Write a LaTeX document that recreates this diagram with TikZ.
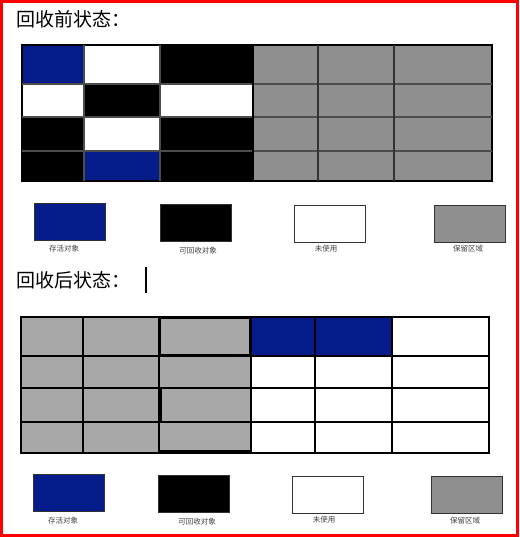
\documentclass[tikz,border=0pt]{standalone}
\usepackage{fontspec}
\newfontfamily\cjk{Noto Sans CJK SC}
\definecolor{liveblue}{RGB}{6,28,138}
\definecolor{resgray}{RGB}{143,143,143}
\definecolor{oldgray}{RGB}{168,168,168}

\begin{document}
\begin{tikzpicture}[x=1pt,y=-1pt,
  grid/.style={draw=black,line width=1.2pt},
  title/.style={anchor=west,font=\cjk\fontsize{19}{19}\selectfont},
  key/.style={draw=black!80,line width=1pt,minimum width=71pt,minimum height=37pt,inner sep=0pt},
  keytext/.style={font=\cjk\fontsize{7.5}{7.5}\selectfont,text=black!75}]
\useasboundingbox (0,0) rectangle (519,537);
\fill[white] (0,0) rectangle (519,537);

\node [title] (before) at (13,19) {回收前状态：};

% before collection
\fill [resgray] (253,45) rectangle (492,181);
\fill [liveblue] (22,45) rectangle (84,84);
\fill [black] (160,45) rectangle (253,84);
\fill [black] (84,84) rectangle (160,117);
\fill [black] (22,117) rectangle (84,181);
\fill [black] (160,117) rectangle (253,181);
\fill [liveblue] (84,151) rectangle (160,181);
\draw [grid] (22,45) rectangle (492,181);
\draw [grid, draw=black!70] (22,84) -- (492,84);
\draw [grid, draw=black!70] (22,117) -- (492,117);
\draw [grid, draw=black!70] (22,151) -- (492,151);
\draw [grid, draw=black!70] (84,45) -- (84,181);
\draw [grid, draw=black!70] (160,45) -- (160,181);
\draw [grid] (253,45) -- (253,181);
\draw [grid, draw=black!80] (318,45) -- (318,181);
\draw [grid, draw=black!80] (394,45) -- (394,181);

\node [key, fill=liveblue] (liveA) at (69.5,221.5) {};
\node [keytext] (liveAtxt) at (64,249) {存活对象};
\node [key, fill=black] (deadA) at (195.5,222.5) {};
\node [keytext] (deadAtxt) at (198,251) {可回收对象};
\node [key, fill=white] (freeA) at (330,223.5) {};
\node [keytext] (freeAtxt) at (326,249) {未使用};
\node [key, fill=resgray] (resA) at (469.5,223.5) {};
\node [keytext] (resAtxt) at (468,249) {保留区域};

\node [title] (after) at (13,280) {回收后状态：};
\draw [line width=1.5pt] (146,267) -- (146,293);

% after collection
\fill [oldgray] (21,317) rectangle (251,453);
\fill [liveblue] (251,317) rectangle (392,356);
\draw [grid] (21,317) rectangle (489,453);
\draw [grid] (21,356) -- (489,356);
\draw [grid] (21,388) -- (489,388);
\draw [grid] (21,422) -- (489,422);
\draw [grid] (83,317) -- (83,453);
\draw [grid] (159,317) -- (159,453);
\draw [grid] (251,317) -- (251,453);
\draw [grid] (315,317) -- (315,453);
\draw [grid] (392,317) -- (392,453);
\draw [line width=2.4pt] (160,318) rectangle (250,355);
\draw [line width=2.4pt] (161,389) -- (161,421);
\draw [line width=2.4pt] (159,451) -- (251,451);

\node [key, fill=liveblue] (liveB) at (68.5,493) {};
\node [keytext] (liveBtxt) at (63,521) {存活对象};
\node [key, fill=black] (deadB) at (194,494) {};
\node [keytext] (deadBtxt) at (197,522) {可回收对象};
\node [key, fill=white] (freeB) at (327.5,495) {};
\node [keytext] (freeBtxt) at (324,520) {未使用};
\node [key, fill=resgray] (resB) at (467,495) {};
\node [keytext] (resBtxt) at (465,521) {保留区域};

\draw [red, line width=3pt] (1.5,1.5) rectangle (517.5,535.5);
\end{tikzpicture}
\end{document}
